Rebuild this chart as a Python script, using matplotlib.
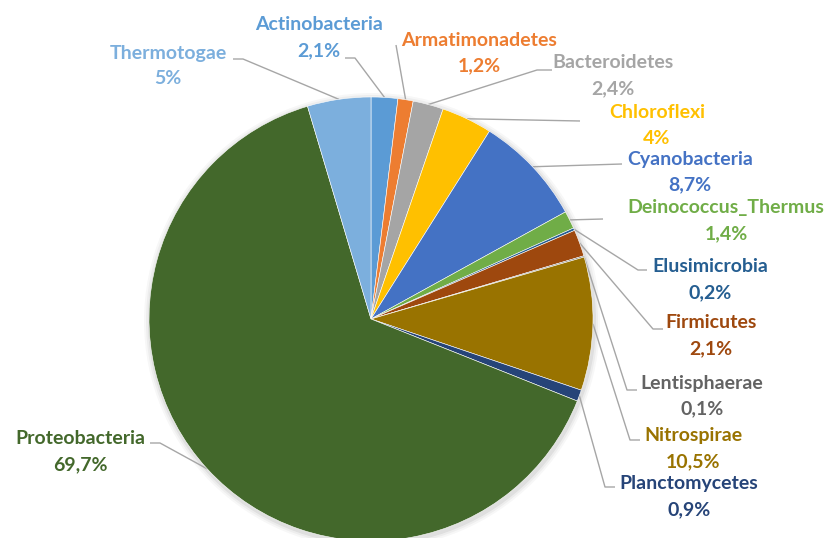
import numpy as np
import matplotlib
matplotlib.use("Agg")
import matplotlib.pyplot as plt

# phyla and their shares (labels as printed on the chart)
phyla = ["Actinobacteria", "Armatimonadetes", "Bacteroidetes", "Chloroflexi",
         "Cyanobacteria", "Deinococcus_Thermus", "Elusimicrobia", "Firmicutes",
         "Lentisphaerae", "Nitrospirae", "Planctomycetes", "Proteobacteria",
         "Thermotogae"]
shares = [2.1, 1.2, 2.4, 4, 8.7, 1.4, 0.2, 2.1, 0.1, 10.5, 0.9, 69.7, 5]
share_labels = ["2,1%", "1,2%", "2,4%", "4%", "8,7%", "1,4%", "0,2%", "2,1%",
                "0,1%", "10,5%", "0,9%", "69,7%", "5%"]

colors = ["#5B9BD5", "#ED7D31", "#A5A5A5", "#FFC000", "#4472C4", "#70AD47",
          "#255E91", "#9E480E", "#636363", "#997300", "#264478", "#43682B",
          "#7CAFDD"]

# layout (pixel coords, y downwards): label centre of first line,
# and the leader path from its elbow to where it meets the label
label_xy = [(319, 25), (479, 40), (613, 63), (657, 113), (690, 159),
            (726, 208), (710, 267), (711, 323), (702, 383), (693, 436),
            (689, 484), (80, 439), (168, 53)]
leader_pts = [[(355, 58), (345, 58)],
              [(396, 45)],
              [(537, 70), (552, 70)],
              [(580, 121)],
              [(622, 164)],
              [(603, 219)],
              [(638, 270), (647, 270)],
              [(653, 329), (663, 329)],
              [(627, 390), (637, 390)],
              [(630, 440), (640, 440)],
              [(605, 487), (615, 487)],
              [(160, 443), (150, 443)],
              [(243, 59), (233, 59)]]

W, H = 829, 538
cx, cy, R = 371, 319, 222

fig = plt.figure(figsize=(W / 100, H / 100), dpi=100)
ax = fig.add_axes([0, 0, 1, 1])

# soft shadow behind the pie
for k, a in [(6, 0.03), (4, 0.04), (2, 0.06)]:
    ax.add_patch(plt.Circle((cx + 1, cy + 2), R + k, color="black", alpha=a,
                            lw=0, zorder=0))

# y axis is inverted, so start at 270 and go counter-clockwise in data space
wedges, _ = ax.pie(shares, colors=colors, center=(cx, cy), radius=R,
                   startangle=270, counterclock=True,
                   wedgeprops=dict(linewidth=0.4, edgecolor="white"))
for w in wedges:
    w.set_zorder(2)

for i, w in enumerate(wedges):
    mid = np.deg2rad((w.theta1 + w.theta2) / 2)
    start = (cx + R * np.cos(mid), cy + R * np.sin(mid))
    pts = [start] + leader_pts[i]
    xs, ys = zip(*pts)
    ax.plot(xs, ys, color="#A6A6A6", lw=1.0, zorder=1, solid_capstyle="butt")

    lx, ly = label_xy[i]
    ax.text(lx, ly, phyla[i], ha="center", va="center", fontsize=14,
            fontweight="bold", family="Lato", color=colors[i])
    ax.text(lx, ly + 26, share_labels[i], ha="center", va="center",
            fontsize=14, fontweight="bold", family="Lato", color=colors[i])

ax.set_xlim(0, W)
ax.set_ylim(H, 0)
ax.set_aspect("auto")
ax.axis("off")

fig.savefig("out.png", dpi=100)
